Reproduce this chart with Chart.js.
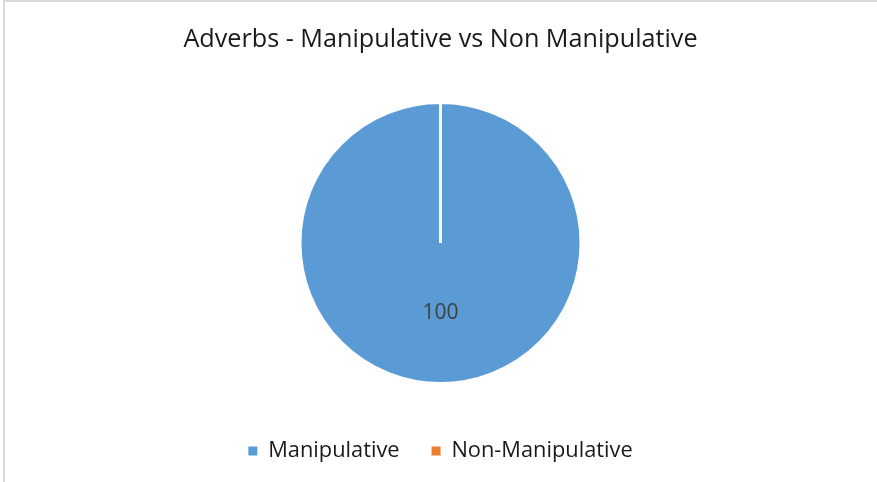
<!DOCTYPE html>
<html>
<head>
<meta charset="utf-8">
<title>Adverbs</title>
<script src="https://cdn.jsdelivr.net/npm/chart.js@4.4.1/dist/chart.umd.min.js"></script>
<style>
  html, body { margin: 0; padding: 0; background: #fff; }
  #marco {
    position: absolute; left: 3px; top: 0px;
    width: 1000px; height: 600px;
    border-top: 2px solid #d9d9d9; border-left: 2px solid #d9d9d9;
  }
  #lienzo { position: absolute; left: 0; top: 0; }
</style>
</head>
<body>
<div id="marco"></div>
<canvas id="lienzo" width="877" height="482"></canvas>
<script>
const categorias = ['Manipulative', 'Non-Manipulative'];
const valores = [100, 0];
const colores = ['#5B9BD5', '#ED7D31'];
const titulo = 'Adverbs - Manipulative vs Non Manipulative';

// etiqueta del valor dentro del sector
const etiquetaValor = {
  id: 'etiquetaValor',
  afterDatasetsDraw(chart) {
    const ctx = chart.ctx;
    const meta = chart.getDatasetMeta(0);
    meta.data.forEach((arco, i) => {
      if (!valores[i]) return;
      const r = arco.outerRadius;
      ctx.save();
      ctx.fillStyle = '#404040';
      ctx.font = '21px "Open Sans"';
      ctx.textAlign = 'center';
      ctx.textBaseline = 'middle';
      ctx.fillText(String(valores[i]), arco.x, arco.y + r * 0.495);
      ctx.restore();
    });
  }
};

// cuadros de la leyenda sin el borde blanco del sector
const etiquetasBase = Chart.overrides.pie.plugins.legend.labels.generateLabels;

const ctx = document.getElementById('lienzo').getContext('2d');
const grafico = new Chart(ctx, {
  type: 'pie',
  data: {
    labels: categorias,
    datasets: [{
      data: valores,
      backgroundColor: colores,
      borderColor: '#ffffff',
      borderWidth: 3,
      radius: 140.5
    }]
  },
  options: {
    responsive: false,
    animation: false,
    layout: { padding: { left: 4, right: 0, top: 0, bottom: 10 } },
    plugins: {
      title: {
        display: true,
        text: titulo,
        color: '#1a1a1a',
        font: { family: 'Open Sans', size: 25.2, weight: 'normal' },
        padding: { top: 25, bottom: 22.5 }
      },
      legend: {
        position: 'bottom',
        labels: {
          color: '#1a1a1a',
          font: { family: 'Open Sans', size: 21.8 },
          boxWidth: 9,
          boxHeight: 9,
          padding: 32,
          generateLabels(chart) {
            return etiquetasBase(chart).map(l => Object.assign(l, { lineWidth: 0 }));
          }
        }
      },
      tooltip: { enabled: false }
    }
  },
  plugins: [etiquetaValor]
});
</script>
</body>
</html>
